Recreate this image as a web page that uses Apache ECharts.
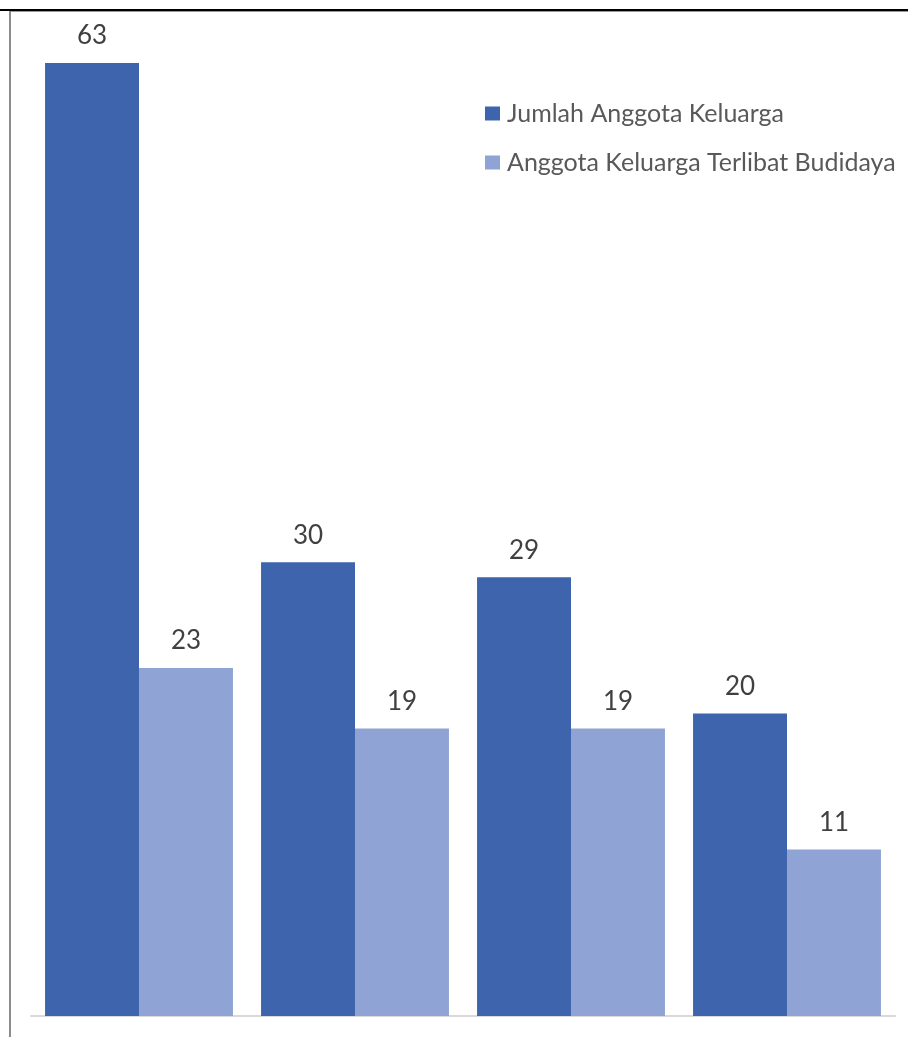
<!DOCTYPE html>
<html>
<head>
<meta charset="utf-8">
<script src="https://cdn.jsdelivr.net/npm/echarts@6/dist/echarts.min.js"></script>
<style>
  html, body { margin: 0; padding: 0; background: #fff; }
  #chart { width: 908px; height: 1037px; }
</style>
</head>
<body>
<div id="chart"></div>
<script>
// Household members vs. members involved in aquaculture
const categories = ['Kelompok 1', 'Kelompok 2', 'Kelompok 3', 'Kelompok 4'];
const seriesNames = ['Jumlah Anggota Keluarga', 'Anggota Keluarga Terlibat Budidaya'];
const jumlahAnggota = [63, 30, 29, 20];
const terlibatBudidaya = [23, 19, 19, 11];

const FONT = 'Lato, "Open Sans", sans-serif';
const chart = echarts.init(document.getElementById('chart'), null, { renderer: 'canvas' });

const labelStyle = {
  show: true,
  position: 'top',
  distance: 14,
  color: '#404040',
  fontFamily: FONT,
  fontSize: 26
};

chart.setOption({
  animation: false,
  backgroundColor: '#ffffff',
  grid: { left: 31, right: 13, top: 63, bottom: 21, containLabel: false },
  legend: {
    orient: 'vertical',
    left: 480,
    top: 96,
    itemWidth: 15,
    itemHeight: 14,
    itemGap: 24,
    icon: 'rect',
    textStyle: { color: '#595959', fontFamily: FONT, fontSize: 25, padding: [0, 0, 0, 2] },
    data: seriesNames
  },
  xAxis: {
    type: 'category',
    data: categories,
    axisLine: { show: true, lineStyle: { color: '#d9d9d9', width: 2 } },
    axisTick: { show: false },
    axisLabel: { show: false }
  },
  yAxis: {
    type: 'value',
    min: 0,
    max: 63,
    show: false,
    splitLine: { show: false }
  },
  series: [
    {
      name: seriesNames[0],
      type: 'bar',
      data: jumlahAnggota,
      barWidth: '43.5%',
      barGap: '0%',
      itemStyle: { color: '#3d64ad' },
      label: labelStyle
    },
    {
      name: seriesNames[1],
      type: 'bar',
      data: terlibatBudidaya,
      barWidth: '43.5%',
      itemStyle: { color: '#8fa4d4' },
      label: labelStyle
    }
  ],
  graphic: [
    { type: 'rect', shape: { x: 0, y: 9, width: 908, height: 2 }, style: { fill: '#000000' }, z: 100 },
    { type: 'rect', shape: { x: 9, y: 11, width: 899, height: 1 }, style: { fill: '#9a9a9a' }, z: 100 },
    { type: 'rect', shape: { x: 9, y: 11, width: 2, height: 1026 }, style: { fill: '#8c8c8c' }, z: 100 }
  ]
});
</script>
</body>
</html>
